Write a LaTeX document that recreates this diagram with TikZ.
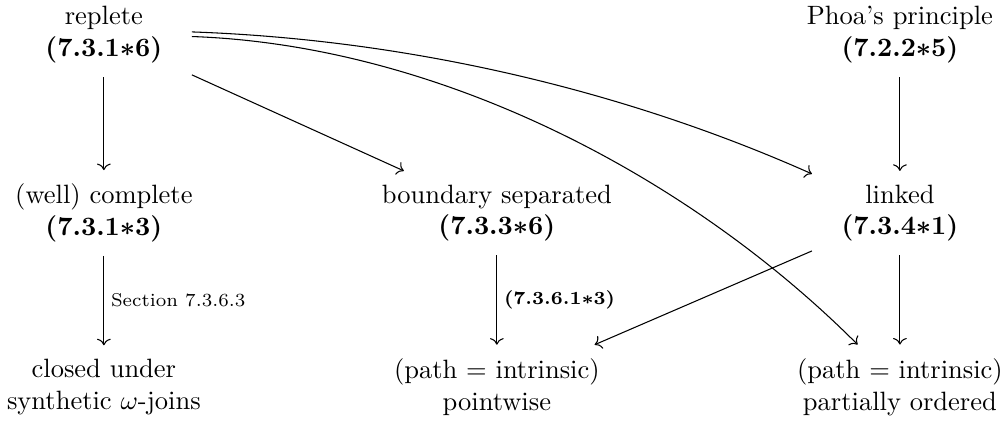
\documentclass[tikz,border=0pt]{standalone}
\usepackage{amsmath,amssymb}
\usepackage{tikz}
\usetikzlibrary{arrows.meta}
\newcommand{\refno}[2]{\textbf{(#1$\boldsymbol{\ast}$#2)}}
\tikzset{
  prop/.style={align=center, inner sep=5pt, minimum width=66pt},
  arr/.style={-{Computer Modern Rightarrow}},
  lbl/.style={font=\scriptsize, inner sep=2.5pt},
}

\begin{document}
\begin{tikzpicture}[x=1pt, y=1pt]
  \useasboundingbox (0,0) rectangle (378.5,-158.9);
  %% Top row
  \node[prop] (replete) at (39.2,-13.2)  {replete\\\refno{7.3.1}{6}};
  \node[prop] (phoa)    at (339.6,-13.2) {Phoa's principle\\\refno{7.2.2}{5}};
  %% Middle row
  \node[prop] (complete) at (39.2,-80.4)  {(well) complete\\\refno{7.3.1}{3}};
  \node[prop] (boundary) at (187.5,-80.4) {boundary separated\\\refno{7.3.3}{6}};
  \node[prop] (linked)   at (339.6,-80.4) {linked\\\refno{7.3.4}{1}};
  %% Bottom row
  \node[prop] (closed)    at (39.2,-146)  {closed under\\synthetic $\omega$-joins};
  \node[prop] (pointwise) at (187.5,-146) {(path $=$ intrinsic)\\pointwise};
  \node[prop] (ordered)   at (339.6,-146) {(path $=$ intrinsic)\\partially ordered};
  %% Arrows
  \foreach \a/\b in {replete/complete,replete/boundary,phoa/linked,linked/pointwise,linked/ordered}
    \draw[arr] (\a) -- (\b);
  \draw[arr] (complete) -- node[lbl, right] {Section 7.3.6.3} (closed);
  \draw[arr] (boundary) -- node[lbl, right] {\refno{7.3.6.1}{3}} (pointwise);
  \draw[arr] (replete.2) to[out=-2, in=156, looseness=0.85] (linked);
  \draw[arr] (replete.-1) to[out=-2, in=135, looseness=0.85] (ordered);
\end{tikzpicture}
\end{document}
